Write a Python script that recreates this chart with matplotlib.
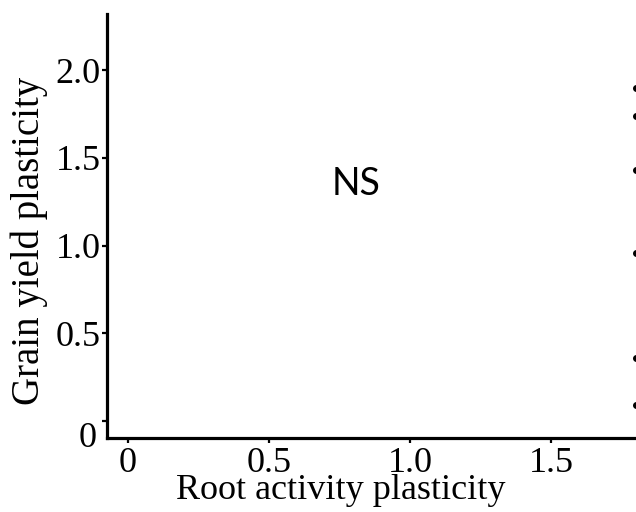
import matplotlib
matplotlib.use("Agg")
import matplotlib.pyplot as plt
import matplotlib.transforms as mtransforms

# Data
x_ticks = [0, 0.5, 1.0, 1.5]
x_tick_labels = ["0", "0.5", "1.0", "1.5"]
y_ticks = [0, 0.5, 1.0, 1.5, 2.0]
y_tick_labels = ["0", "0.5", "1.0", "1.5", "2.0"]
# points cut off at the right edge of the image
edge_x = [1.80, 1.80, 1.80, 1.80, 1.80, 1.80]
edge_y = [1.90, 1.74, 1.43, 0.96, 0.36, 0.09]
annotation = "NS"

plt.rcParams["font.family"] = ["Liberation Serif", "DejaVu Serif"]

fig = plt.figure(figsize=(6.36, 5.12), dpi=100)
ax = fig.add_axes([107 / 636, 74 / 512, 1 - 107 / 636, (438 - 14) / 512])

ax.scatter(edge_x, edge_y, s=16, color="black", clip_on=True, zorder=3)

ax.set_xlim(-0.074, 1.80)
ax.set_ylim(-0.097, 2.32)

ax.spines["top"].set_visible(False)
ax.spines["right"].set_visible(False)
for s in ("left", "bottom"):
    ax.spines[s].set_linewidth(2.3)

ax.set_xticks(x_ticks)
ax.set_xticklabels(x_tick_labels, fontsize=26)
ax.set_yticks(y_ticks)
ax.set_yticklabels(y_tick_labels, fontsize=26)
ax.tick_params(axis="both", direction="out", length=3.6, width=1.6, color="black")
ax.tick_params(axis="x", pad=3)
ax.tick_params(axis="y", pad=1)

# shift the "0" y tick label down and left as in the reference
lbl0 = ax.get_yticklabels()[0]
lbl0.set_transform(lbl0.get_transform() + mtransforms.ScaledTranslation(-4 / 100, -14 / 100, fig.dpi_scale_trans))

ax.set_xlabel("Root activity plasticity", fontsize=26)
ax.xaxis.set_label_coords(0.442, -0.085)
ax.set_ylabel("Grain yield plasticity", fontsize=28)
ax.yaxis.set_label_coords(-0.112, 0.465)

ax.text(0.81, 1.35, annotation, fontsize=27, family=["Lato", "DejaVu Sans"],
        ha="center", va="center")

fig.savefig("out.png", dpi=100)
